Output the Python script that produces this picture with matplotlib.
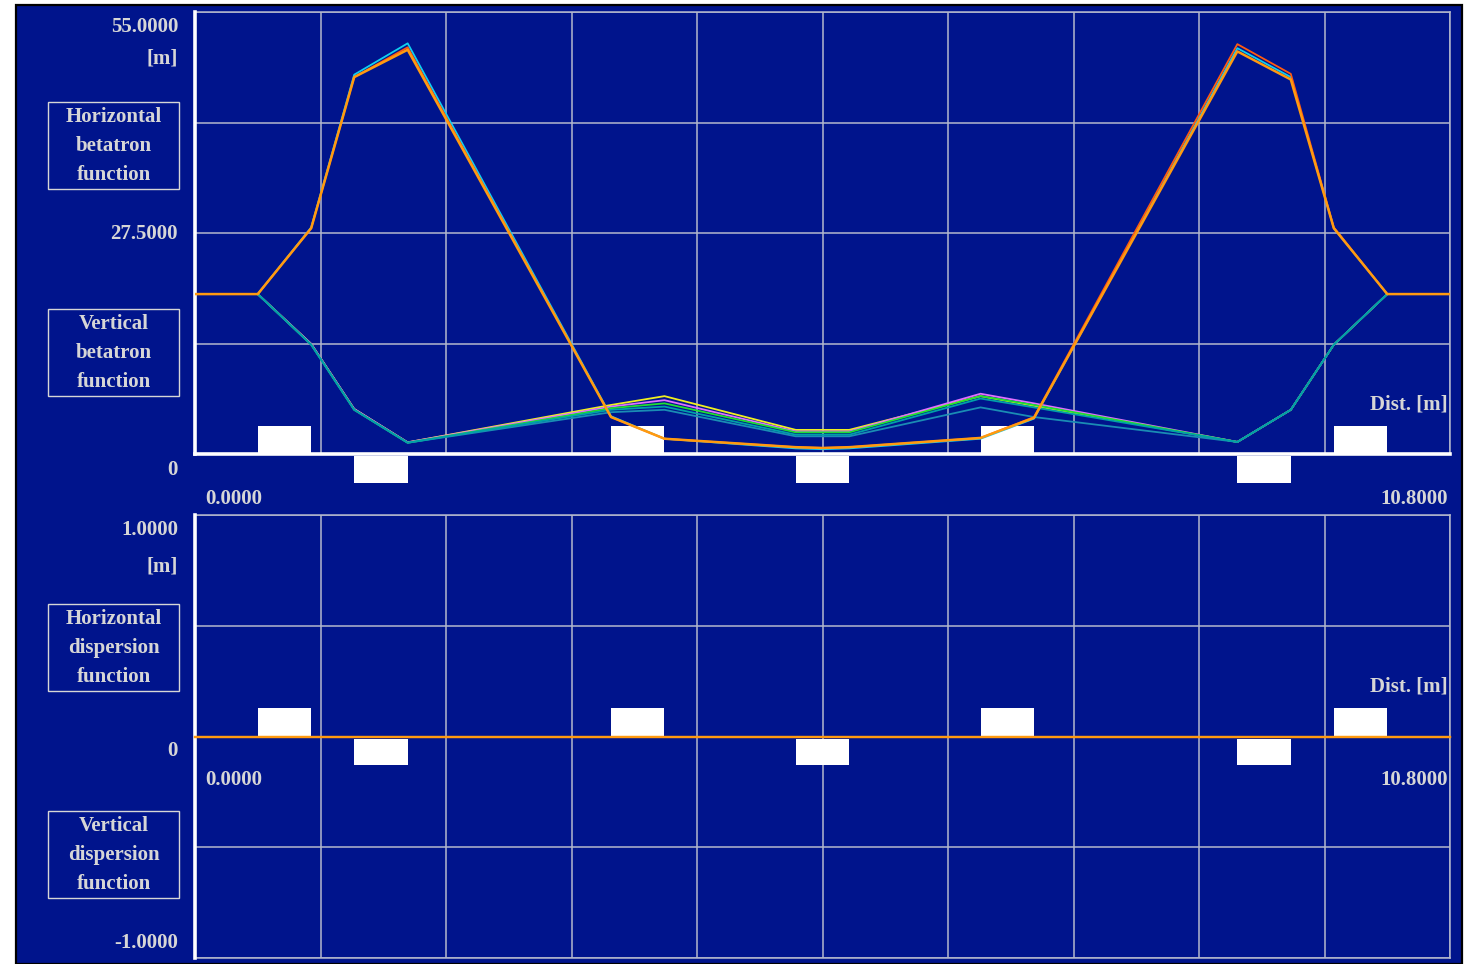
import numpy as np
import matplotlib
matplotlib.use("Agg")
import matplotlib.pyplot as plt
from matplotlib.patches import Rectangle

W, H = 1468, 964
BLUE = "#00148c"
GRID = "#b4b8cc"
TEXT = "#d6d6d6"

# lattice node positions along the cell [m]
s_nodes = [0.0, 0.54, 1.00, 1.37, 1.83, 3.58, 4.04, 5.17, 5.40, 5.63,
           6.76, 7.22, 8.97, 9.43, 9.80, 10.26, 10.8]

# horizontal betatron function, several runs [m]
beta_x_orange = [19.9, 19.9, 28.1, 46.9, 50.3, 4.6, 1.9, 0.85, 0.75, 0.85,
                 2.0, 4.5, 50.1, 46.6, 28.1, 19.9, 19.9]
beta_x_red = [19.9, 19.9, 28.1, 46.9, 50.6, 4.6, 1.9, 0.85, 0.75, 0.85,
              2.0, 4.6, 51.0, 47.3, 28.2, 19.9, 19.9]
beta_x_cyan = [19.9, 19.9, 28.2, 47.2, 51.1, 4.7, 1.9, 0.7, 0.6, 0.7,
               1.9, 4.4, 50.5, 46.9, 28.1, 19.9, 19.9]

# vertical betatron function, several runs [m]
beta_y_yellow = [19.9, 19.9, 13.7, 5.6, 1.45, 6.1, 7.2, 3.0, 3.0, 3.0,
                 7.2, 6.0, 1.5, 5.5, 13.6, 19.9, 19.9]
beta_y_magenta = [19.9, 19.9, 13.7, 5.6, 1.45, 5.9, 6.7, 2.8, 2.8, 2.8,
                  7.5, 6.3, 1.5, 5.5, 13.6, 19.9, 19.9]
beta_y_green = [19.9, 19.9, 13.6, 5.5, 1.4, 5.7, 6.3, 2.7, 2.7, 2.7,
                7.2, 6.1, 1.5, 5.5, 13.6, 19.9, 19.9]
beta_y_teal = [19.9, 19.9, 13.6, 5.5, 1.4, 5.5, 5.9, 2.4, 2.4, 2.4,
               6.9, 5.8, 1.5, 5.5, 13.6, 19.9, 19.9]
beta_y_dark = [19.9, 19.9, 13.6, 5.5, 1.4, 5.2, 5.5, 2.2, 2.2, 2.2,
               5.8, 4.6, 1.5, 5.5, 13.6, 19.9, 19.9]

# dispersion functions [m]
disp_s = [0.0, 10.8]
disp_x = [0.0, 0.0]
disp_y = [0.0, 0.0]

# quadrupoles: start position and type (F above axis, D below)
quad_start = [0.54, 1.37, 3.58, 5.17, 6.76, 8.97, 9.80]
quad_type = ["F", "D", "F", "D", "F", "D", "F"]
quad_len = 0.46

cell_length = 10.8
beta_max = 55.0
disp_max = 1.0


def fx(px):
    return px / W


def fy(py):
    return 1 - py / H


fig = plt.figure(figsize=(W / 100, H / 100), dpi=100)
fig.patch.set_facecolor("white")
fig.add_artist(Rectangle((fx(16), 0), fx(1462) - fx(16), fy(5),
                         transform=fig.transFigure, facecolor=BLUE,
                         edgecolor="black", lw=1.6, zorder=0))

ax_b = fig.add_axes([fx(195), fy(454), fx(1450) - fx(195), fy(12) - fy(454)])
ax_d = fig.add_axes([fx(195), fy(958), fx(1450) - fx(195), fy(515) - fy(958)])


def setup(ax, ylo, yhi):
    ax.set_facecolor(BLUE)
    ax.set_xlim(0, cell_length)
    ax.set_ylim(ylo, yhi)
    ax.set_xticks(np.linspace(0, cell_length, 11))
    ax.set_yticks(np.linspace(ylo, yhi, 5))
    ax.tick_params(length=0, labelbottom=False, labelleft=False)
    for sp in ax.spines.values():
        sp.set_visible(False)
    ax.grid(True, color=GRID, lw=1.1)
    ax.axvline(0, color="white", lw=2.6, clip_on=False, zorder=3)
    ax.set_axisbelow(True)


setup(ax_b, 0, beta_max)
setup(ax_d, -disp_max, disp_max)
ax_b.axhline(0, color="white", lw=2.6, clip_on=False, zorder=3)
# right and top border of the grid
for ax in (ax_b, ax_d):
    ax.axvline(cell_length, color=GRID, lw=1.1, clip_on=False)
    ax.axhline(ax.get_ylim()[1], color=GRID, lw=1.1, clip_on=False)
    ax.axhline(ax.get_ylim()[0], color=GRID, lw=1.1, clip_on=False)


def draw_quads(ax, h_up, h_down, gap):
    for s0, kind in zip(quad_start, quad_type):
        if kind == "F":
            r = Rectangle((s0, 0), quad_len, h_up, facecolor="white",
                          edgecolor="none", clip_on=False, zorder=4)
        else:
            r = Rectangle((s0, -gap - h_down), quad_len, h_down,
                          facecolor="white", edgecolor="none",
                          clip_on=False, zorder=4)
        ax.add_patch(r)


draw_quads(ax_b, 3.48, 3.4, 0.25)
draw_quads(ax_d, 0.127, 0.118, 0.012)

# vertical beta curves
for vals, c in [(beta_y_yellow, "#f0f020"), (beta_y_magenta, "#e070ff"),
                (beta_y_green, "#20e030"), (beta_y_dark, "#1a8cb4"),
                (beta_y_teal, "#00a0a8")]:
    ax_b.plot(s_nodes, vals, color=c, lw=1.3, zorder=5)
# horizontal beta curves
ax_b.plot(s_nodes, beta_x_cyan, color="#10d0f0", lw=1.3, zorder=5)
ax_b.plot(s_nodes, beta_x_red, color="#ff5a10", lw=1.3, zorder=5)
ax_b.plot(s_nodes, beta_x_orange, color="#ff9a10", lw=1.8, zorder=5)

ax_d.plot(disp_s, disp_y, color="#ff9a10", lw=1.6, zorder=5, clip_on=False)
ax_d.plot(disp_s, disp_x, color="#ff9a10", lw=1.6, zorder=5, clip_on=False)

font = dict(family="Liberation Serif", fontweight="bold", color=TEXT,
            fontsize=15)


def label(px, py, txt, ha="right"):
    fig.text(fx(px), fy(py), txt, ha=ha, va="center", **font)


def boxed(top, lines):
    fig.add_artist(Rectangle((fx(48), fy(top + 87)), fx(179) - fx(48),
                             fy(top) - fy(top + 87), transform=fig.transFigure,
                             facecolor="none", edgecolor=TEXT, lw=1.0))
    for i, t in enumerate(lines):
        label(113.5, top + 15 + 29 * i, t, ha="center")


# betatron panel labels
label(178, 27, f"{beta_max:.4f}")
label(178, 58, "[m]")
label(178, 234, f"{beta_max / 2:.4f}")
label(178, 470, "0")
label(205, 499, f"{0:.4f}", ha="left")
label(1448, 499, f"{cell_length:.4f}")
label(1448, 404, "Dist. [m]")
boxed(102, ["Horizontal", "betatron", "function"])
boxed(309, ["Vertical", "betatron", "function"])

# dispersion panel labels
label(178, 530, f"{disp_max:.4f}")
label(178, 567, "[m]")
label(178, 751, "0")
label(205, 780, f"{0:.4f}", ha="left")
label(1448, 780, f"{cell_length:.4f}")
label(1448, 686, "Dist. [m]")
label(178, 943, f"{-disp_max:.4f}")
boxed(604, ["Horizontal", "dispersion", "function"])
boxed(811, ["Vertical", "dispersion", "function"])

fig.savefig("out.png", dpi=100, facecolor=fig.get_facecolor())
